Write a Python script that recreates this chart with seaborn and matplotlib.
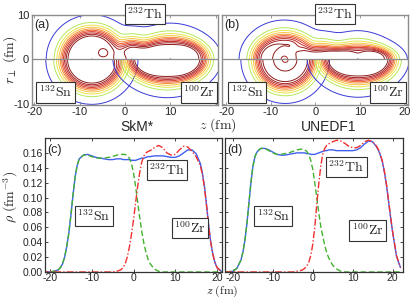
import numpy as np
import pandas as pd
import seaborn as sns
import matplotlib.pyplot as plt

# ---- bottom panels: density along the fission axis
z_axis = [-22, -20, -19, -18, -17.5, -17, -16.5, -16, -15.5, -15, -14.5, -14, -13.5, -13,
          -12, -11, -10, -9, -8, -7, -6, -5, -4, -3,
          -2.5, -2, -1.5, -1, -0.5, 0, 0.5, 1, 1.5, 2, 2.5, 3, 3.5, 4,
          5, 6, 7, 8, 9, 10, 11, 12, 13, 14, 15, 16,
          16.5, 17, 17.5, 18, 18.5, 19, 19.5, 20, 21, 22]

skm_th = [0, 0, 0.001, 0.003, 0.006, 0.011, 0.02, 0.034, 0.052, 0.076, 0.103, 0.127, 0.143, 0.152,
          0.157, 0.158, 0.156, 0.154, 0.153, 0.152, 0.151, 0.151, 0.152, 0.152,
          0.151, 0.151, 0.151, 0.151, 0.150, 0.150, 0.150, 0.151, 0.152, 0.153, 0.153, 0.154, 0.155, 0.155,
          0.156, 0.156, 0.156, 0.155, 0.154, 0.154, 0.156, 0.160, 0.164, 0.164, 0.159, 0.146,
          0.133, 0.115, 0.090, 0.063, 0.040, 0.024, 0.013, 0.006, 0.001, 0]
skm_sn = [0, 0, 0.001, 0.003, 0.006, 0.011, 0.02, 0.034, 0.052, 0.076, 0.103, 0.127, 0.143, 0.152,
          0.157, 0.157, 0.155, 0.153, 0.153, 0.153, 0.154, 0.155, 0.157, 0.158,
          0.158, 0.158, 0.156, 0.153, 0.146, 0.133, 0.115, 0.094, 0.073, 0.054, 0.038, 0.026, 0.017, 0.011,
          0.004, 0.001, 0, 0, 0, 0, 0, 0, 0, 0, 0, 0,
          0, 0, 0, 0, 0, 0, 0, 0, 0, 0]
skm_zr = [0, 0, 0, 0, 0, 0, 0, 0, 0, 0, 0, 0, 0, 0,
          0, 0, 0, 0, 0, 0, 0, 0, 0.001, 0.003,
          0.006, 0.011, 0.02, 0.033, 0.05, 0.07, 0.093, 0.115, 0.134, 0.148, 0.156, 0.160, 0.162, 0.163,
          0.167, 0.170, 0.167, 0.160, 0.157, 0.158, 0.164, 0.169, 0.168, 0.162, 0.155, 0.143,
          0.131, 0.113, 0.089, 0.062, 0.040, 0.024, 0.013, 0.006, 0.001, 0]

une_th = [0, 0.001, 0.005, 0.016, 0.027, 0.043, 0.065, 0.093, 0.12, 0.142, 0.155, 0.161, 0.164, 0.166,
          0.166, 0.164, 0.161, 0.158, 0.157, 0.157, 0.158, 0.159, 0.160, 0.160,
          0.160, 0.160, 0.159, 0.159, 0.158, 0.158, 0.158, 0.159, 0.160, 0.161, 0.162, 0.163, 0.163, 0.164,
          0.164, 0.163, 0.163, 0.163, 0.163, 0.163, 0.164, 0.167, 0.172, 0.176, 0.175, 0.168,
          0.163, 0.156, 0.147, 0.133, 0.116, 0.095, 0.074, 0.054, 0.021, 0.006]
une_sn = [0, 0.001, 0.005, 0.016, 0.027, 0.043, 0.065, 0.093, 0.12, 0.142, 0.155, 0.161, 0.164, 0.166,
          0.166, 0.163, 0.160, 0.158, 0.158, 0.159, 0.160, 0.162, 0.164, 0.165,
          0.165, 0.164, 0.162, 0.158, 0.150, 0.138, 0.120, 0.100, 0.080, 0.062, 0.048, 0.036, 0.026, 0.019,
          0.009, 0.004, 0.001, 0, 0, 0, 0, 0, 0, 0, 0, 0,
          0, 0, 0, 0, 0, 0, 0, 0, 0, 0]
une_zr = [0, 0, 0, 0, 0, 0, 0, 0, 0, 0, 0, 0, 0, 0,
          0, 0, 0, 0, 0, 0, 0, 0, 0.001, 0.002,
          0.003, 0.005, 0.008, 0.013, 0.022, 0.037, 0.06, 0.09, 0.118, 0.142, 0.158, 0.166, 0.170, 0.172,
          0.175, 0.177, 0.176, 0.173, 0.169, 0.167, 0.167, 0.170, 0.175, 0.177, 0.175, 0.169,
          0.164, 0.157, 0.148, 0.134, 0.117, 0.096, 0.075, 0.055, 0.022, 0.006]

# ---- top panels: density maps built from simple Fermi-shaped parts
# (centre z, half-density radius along z, along r_perp)
rho_bulk = 0.165
diffuse = 0.62
skm_th_parts = [(-7.3, 6.9, 6.9), (1.5, 4.0, 4.3), (10.0, 8.2, 5.0)]
skm_sn_part = [(-7.3, 7.0, 7.0)]
skm_zr_part = [(9.3, 8.8, 5.5)]
une_th_parts = [(-7.0, 7.0, 5.7), (1.5, 4.2, 3.2), (9.5, 8.0, 3.3)]
une_sn_part = [(-6.8, 6.8, 6.8)]
une_zr_part = [(9.6, 8.3, 5.4)]
# interior wiggles (z, r_perp, relative amplitude, width z, width r)
skm_th_bumps = [(-5.0, 1.5, -0.08, 1.3, 1.3), (9.0, 0.0, -0.06, 5.5, 1.3), (-1.0, 0.0, -0.06, 1.5, 1.5)]
skm_sn_bumps = [(-1.5, 0.0, -0.05, 1.0, 1.0)]
une_th_bumps = [(-7.0, 0.0, -0.12, 2.4, 2.4), (-3.5, 3.2, -0.06, 1.0, 1.0), (9.5, 0.0, -0.06, 5.0, 1.0)]
une_sn_bumps = [(-6.8, 0.0, -0.12, 2.4, 2.4)]

levels = [0.001, 0.015, 0.035, 0.06, 0.085, 0.105, 0.122, 0.136, 0.146, 0.154]
level_colors = ['#3a3ad6', '#b4e85c', '#e6e64a', '#f8c444', '#f59238', '#ee5e2e',
                '#d83a2a', '#bf2a26', '#a52222', '#8e1c1c']


def density(z, r, parts, bumps):
    empty = np.ones_like(z)
    for zc, rz, rr in parts:
        dist = np.hypot(z - zc, r) + 1e-9
        s = np.hypot((z - zc) / rz, r / rr) + 1e-9
        d = dist - dist / s
        empty *= 1 - 1 / (1 + np.exp(d / diffuse))
    rho = rho_bulk * (1 - empty)
    mod = np.ones_like(z)
    for zc, rc, amp, sz, sr in bumps:
        mod += amp * np.exp(-0.5 * ((z - zc) / sz) ** 2 - 0.5 * ((np.abs(r) - rc) / sr) ** 2)
    return rho * mod


sns.set_style("ticks")
plt.rcParams['font.family'] = ['Liberation Sans', 'DejaVu Sans']
plt.rcParams['mathtext.fontset'] = 'cm'

fig = plt.figure(figsize=(4.15, 2.98), dpi=100)
W, H = 415, 298


def box(left, right, top, bottom):
    return [left / W, 1 - bottom / H, (right - left) / W, (bottom - top) / H]


ax_a = fig.add_axes(box(32, 218, 15, 104.5))
ax_b = fig.add_axes(box(222, 408, 15, 104.5))
ax_c = fig.add_axes(box(45, 222, 138, 272))
ax_d = fig.add_axes(box(225, 402.5, 138, 272))

zg = np.linspace(-23, 23, 461)
r_up = np.linspace(0, 11, 221)
r_dn = np.linspace(-11, 0, 221)
Zu, Ru = np.meshgrid(zg, r_up)
Zd, Rd = np.meshgrid(zg, r_dn)

label_box = dict(boxstyle='square,pad=0.18', fc='white', ec='#333333', lw=0.8)

for ax, th_parts, th_bumps, sn_part, sn_bumps, zr_part, xlim, lab in [
        (ax_a, skm_th_parts, skm_th_bumps, skm_sn_part, skm_sn_bumps, skm_zr_part, (-20.5, 20.5), '(a)'),
        (ax_b, une_th_parts, une_th_bumps, une_sn_part, une_sn_bumps, une_zr_part, (-21, 20.8), '(b)')]:
    ax.contour(Zu, Ru, density(Zu, Ru, th_parts, th_bumps), levels=levels,
               colors=level_colors, linewidths=0.7)
    ax.contour(Zd, Rd, density(Zd, Rd, sn_part, sn_bumps), levels=levels,
               colors=level_colors, linewidths=0.7)
    ax.contour(Zd, Rd, density(Zd, Rd, zr_part, []), levels=levels,
               colors=level_colors, linewidths=0.7)
    ax.axhline(0, color='#8c8c8c', lw=0.9)
    ax.set_xlim(*xlim)
    ax.set_ylim(-10.2, 10)
    ax.set_xticks([-20, -10, 0, 10, 20])
    ax.set_yticks([-10, 0, 10])
    for sp in ax.spines.values():
        sp.set_color('#8c8c8c')
        sp.set_linewidth(1.0)
    ax.tick_params(direction='in', top=True, right=True, length=2.5, width=0.6,
                   labelsize=8, color='#8c8c8c', pad=2)
    ax.text(0.012, 0.89, lab, transform=ax.transAxes, fontsize=9, va='center')
    ax.text(4.4, 10.2, r'$^{232}\mathrm{Th}$', fontsize=10, ha='center', va='center',
            bbox=label_box, clip_on=False, zorder=5)
    ax.text(-15.3, -7.5, r'$^{132}\mathrm{Sn}$', fontsize=10, ha='center', va='center',
            bbox=label_box, zorder=5)
    ax.text(16.3, -7.5, r'$^{100}\mathrm{Zr}$', fontsize=10, ha='center', va='center',
            bbox=label_box, zorder=5)

ax_a.set_xticklabels(['-20', '-10', '0', '10', ''])
ax_a.set_yticklabels(['-10', '0', '10'])
ax_b.set_xticklabels(['-20', '-10', '0', '10', '20'])
ax_b.set_yticklabels([])

for ax, z_th, z_sn, z_zr, xlim, lab, pos in [
        (ax_c, skm_th, skm_sn, skm_zr, (-21.2, 21.2), '(c)', [(8.0, 0.137), (-9.5, 0.075), (13.5, 0.059)]),
        (ax_d, une_th, une_sn, une_zr, (-22, 22.5), '(d)', [(8.4, 0.141), (-9.9, 0.075), (13.7, 0.056)])]:
    df = pd.DataFrame({'z': z_axis, 'th': z_th, 'sn': z_sn, 'zr': z_zr})
    sns.lineplot(data=df, x='z', y='th', ax=ax, color='#4060f0', lw=1.0)
    sns.lineplot(data=df, x='z', y='sn', ax=ax, color='#44b030', lw=1.0, linestyle=(0, (4, 2)))
    sns.lineplot(data=df, x='z', y='zr', ax=ax, color='#f03030', lw=1.0, linestyle=(0, (5, 1.5, 1, 1.5)))
    ax.set_xlim(*xlim)
    ax.set_ylim(0, 0.18)
    ax.set_xticks([-20, -10, 0, 10, 20])
    ax.set_xticklabels(['-20', '-10', '0', '10', '20'])
    ax.set_yticks(np.arange(0, 0.17, 0.02))
    ax.set_xlabel('')
    ax.set_ylabel('')
    for sp in ax.spines.values():
        sp.set_color('#333333')
        sp.set_linewidth(0.9)
    ax.tick_params(direction='in', top=True, right=True, length=2.5, width=0.6,
                   labelsize=7.5, pad=1.5)
    ax.tick_params(axis='x', pad=0.8)
    ax.text(0.015, 0.91, lab, transform=ax.transAxes, fontsize=9, va='center')
    for (x, y), name in zip(pos, [r'$^{232}\mathrm{Th}$', r'$^{132}\mathrm{Sn}$', r'$^{100}\mathrm{Zr}$']):
        ax.text(x, y, name, fontsize=10, ha='center', va='center', bbox=label_box, zorder=5)

ax_c.set_yticklabels(['%.2f' % v for v in np.arange(0, 0.17, 0.02)])
ax_d.set_yticklabels([])

fig.text(137 / W, 1 - 127 / H, 'SkM*', fontsize=10, ha='center', va='center')
fig.text(329 / W, 1 - 127 / H, 'UNEDF1', fontsize=10, ha='center', va='center')
fig.text(218 / W, 1 - 125 / H, r'$z\ (\mathrm{fm})$', fontsize=10, ha='center', va='center')
fig.text(222 / W, 1 - 291.2 / H, r'$z\ (\mathrm{fm})$', fontsize=8.5, ha='center', va='center')
fig.text(10 / W, 1 - 60 / H, r'$r_\perp\ (\mathrm{fm})$', fontsize=10, ha='center', va='center', rotation=90)
fig.text(11 / W, 1 - 197 / H, r'$\rho\ (\mathrm{fm}^{-3})$', fontsize=10, ha='center', va='center', rotation=90)

fig.savefig('out.png', dpi=100)
